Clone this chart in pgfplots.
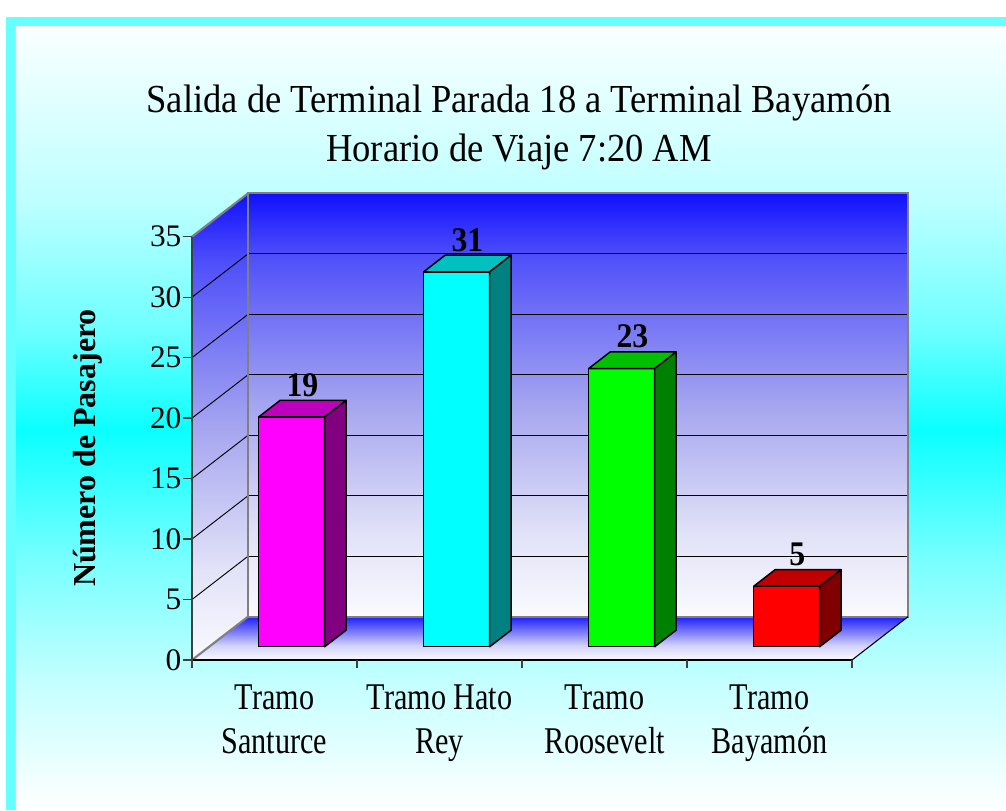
\documentclass[border=0pt]{standalone}
\usepackage{pgfplots}
\usepackage{pgfplotstable}
\pgfplotsset{compat=1.18}
\usepackage{fontspec}
\setmainfont{Liberation Serif}
\newfontfamily\xlabfont[FakeStretch=0.8]{Liberation Serif}
\newfontfamily\titlefont[FakeStretch=0.92]{Liberation Serif}

\definecolor{fr}{RGB}{102,255,255}
\definecolor{wallgray}{RGB}{128,128,128}
\definecolor{axgray}{RGB}{64,64,64}
\definecolor{magF}{RGB}{255,0,255}
\definecolor{magT}{RGB}{190,0,190}
\definecolor{magS}{RGB}{128,0,128}
\definecolor{cyaF}{RGB}{0,255,255}
\definecolor{cyaT}{RGB}{0,192,192}
\definecolor{cyaS}{RGB}{0,128,128}
\definecolor{greF}{RGB}{0,255,0}
\definecolor{greT}{RGB}{0,192,0}
\definecolor{greS}{RGB}{0,128,0}
\definecolor{redF}{RGB}{255,0,0}
\definecolor{redT}{RGB}{192,0,0}
\definecolor{redS}{RGB}{128,0,0}

% background gradient colours
\definecolor{bgA}{RGB}{255,255,255}
\definecolor{bgB}{RGB}{195,255,255}
\definecolor{bgC}{RGB}{120,255,255}
\definecolor{bgD}{RGB}{10,255,255}
\definecolor{bgE}{RGB}{110,255,255}
\definecolor{bgF}{RGB}{190,255,255}
\definecolor{bgG}{RGB}{250,255,255}
\pgfdeclareverticalshading{bgshade}{100bp}{color(0bp)=(bgA); color(25bp)=(bgA); color(33.3bp)=(bgB); color(40.96bp)=(bgC); color(49.27bp)=(bgD); color(55.65bp)=(bgE); color(63.95bp)=(bgF); color(75bp)=(bgG); color(100bp)=(bgG)}

% wall gradient
\definecolor{wA}{RGB}{16,16,255}
\definecolor{wB}{RGB}{80,80,250}
\definecolor{wC}{RGB}{165,165,240}
\definecolor{wD}{RGB}{225,225,248}
\definecolor{wE}{RGB}{250,250,255}
\pgfdeclareverticalshading{wallshade}{100bp}{color(0bp)=(wE); color(25bp)=(wE); color(35bp)=(wD); color(50bp)=(wC); color(67.5bp)=(wB); color(75bp)=(wA); color(100bp)=(wA)}

% floor gradient
\definecolor{fA}{RGB}{30,30,255}
\definecolor{fB}{RGB}{120,120,252}
\definecolor{fC}{RGB}{210,210,252}
\definecolor{fD}{RGB}{250,250,255}
\pgfdeclareverticalshading{floorshade}{100bp}{color(0bp)=(fD); color(25bp)=(fD); color(41.7bp)=(fC); color(58.3bp)=(fB); color(75bp)=(fA); color(100bp)=(fA)}

\pgfplotstableread{
idx value
0 19
1 31
2 23
3 5
}\datatable
\pgfplotstablegetelem{0}{value}\of\datatable \let\vA\pgfplotsretval
\pgfplotstablegetelem{1}{value}\of\datatable \let\vB\pgfplotsretval
\pgfplotstablegetelem{2}{value}\of\datatable \let\vC\pgfplotsretval
\pgfplotstablegetelem{3}{value}\of\datatable \let\vD\pgfplotsretval

% #1 category index, #2 value, #3 front, #4 top, #5 side colour
\newcommand\threedbar[5]{%
  \filldraw[fill=#3, draw=black, line width=1.1pt, line join=round]
    (axis cs:{#1+0.4042},1.099) rectangle (axis cs:{#1+0.8042},{#2+1.099});
  \filldraw[fill=#4, draw=black, line width=1.1pt, line join=round]
    (axis cs:{#1+0.4042},{#2+1.099}) -- (axis cs:{#1+0.8042},{#2+1.099})
    -- (axis cs:{#1+0.9342},{#2+2.470}) -- (axis cs:{#1+0.5342},{#2+2.470}) -- cycle;
  \filldraw[fill=#5, draw=black, line width=1.1pt, line join=round]
    (axis cs:{#1+0.8042},1.099) -- (axis cs:{#1+0.9342},2.470)
    -- (axis cs:{#1+0.9342},{#2+2.470}) -- (axis cs:{#1+0.8042},{#2+1.099}) -- cycle;
  \node[font=\titlefont\bfseries\fontsize{25.9}{30}\selectfont, anchor=base, inner sep=0pt]
    at (axis cs:{#1+0.6692},{#2+2.80}) {#2};
}

\begin{document}
\begin{tikzpicture}
% page background and frame
\fill[white] (-144pt,-112.5pt) rectangle (610.5pt,495pt);
\fill[fr] (-139.5pt,-112.5pt) rectangle (610.5pt,482.25pt);
\shade[shading=bgshade] (-132pt,-112.5pt) rectangle (610.5pt,474.75pt);

\begin{axis}[
  at={(0pt,0pt)}, anchor=south west,
  scale only axis, x=123.75pt, y=9.0705pt,
  xmin=0, xmax=4.33939, ymin=0, ymax=38.58,
  clip=false,
  axis line style={draw=none},
  axis on top,
  ytick={0,5,...,35}, ytick pos=left,
  xtick={0.5,1.5,2.5,3.5}, xtick pos=bottom,
  xticklabels={{Tramo\\Santurce},{Tramo Hato\\Rey},{Tramo\\Roosevelt},{Tramo\\Bayamón}},
  minor xtick={0,1,2,3,4},
  tick align=outside,
  major tick length=6.75pt,
  minor tick length=6pt,
  major x tick style={draw=none},
  minor x tick style={draw=axgray, line width=1pt},
  ytick style={draw=axgray, line width=1pt},
  /pgf/number format/assume math mode=true,
  yticklabel style={font=\fontsize{23.5}{27}\selectfont, inner sep=1pt},
  xticklabel style={font=\xlabfont\fontsize{28.3}{33}\selectfont, align=center, inner sep=0pt, yshift=-12pt},
]
% walls and floor
\shade[shading=wallshade] (axis cs:0,0) -- (axis cs:0.33939,3.58) -- (axis cs:0.33939,38.58) -- (axis cs:0,35) -- cycle;
\shade[shading=wallshade] (axis cs:0.33939,3.58) rectangle (axis cs:4.33939,38.58);
\shade[shading=floorshade] (axis cs:0,0) -- (axis cs:4,0) -- (axis cs:4.33939,3.58) -- (axis cs:0.33939,3.58) -- cycle;
% grid lines
\pgfplotsinvokeforeach{5,10,...,30}{
  \draw[black, line width=0.7pt] (axis cs:0.33939,{#1+3.58}) -- (axis cs:4.33939,{#1+3.58});
  \draw[black, line width=0.7pt] (axis cs:0,#1) -- (axis cs:0.33939,{#1+3.58});
}
% wall outlines
\draw[wallgray, line width=1.6pt] (axis cs:0.33939,3.58) rectangle (axis cs:4.33939,38.58);
\draw[wallgray, line width=1.6pt] (axis cs:0,35) -- (axis cs:0.33939,38.58);
\draw[wallgray, line width=1.6pt] (axis cs:0,0) -- (axis cs:0.33939,3.58);
\draw[black, line width=0.8pt] (axis cs:4,0) -- (axis cs:4.33939,3.58);
\draw[black, line width=1.2pt] (axis cs:0,0) -- (axis cs:4,0);
\draw[axgray, line width=1.6pt] (axis cs:0,0) -- (axis cs:0,35);
% bars
\threedbar{0}{\vA}{magF}{magT}{magS}
\threedbar{1}{\vB}{cyaF}{cyaT}{cyaS}
\threedbar{2}{\vC}{greF}{greT}{greS}
\threedbar{3}{\vD}{redF}{redT}{redS}
% titles
\node[font=\titlefont\fontsize{29.8}{33}\selectfont, anchor=base, inner sep=0pt] at (axis cs:1.982,45.31) {Salida de Terminal Parada 18 a Terminal Bayamón};
\node[font=\titlefont\fontsize{29.8}{33}\selectfont, anchor=base, inner sep=0pt] at (axis cs:1.982,41.18) {Horario de Viaje 7:20 AM};
\node[font=\bfseries\fontsize{24}{28}\selectfont, rotate=90, inner sep=0pt] at (axis cs:-0.630,17.53) {Número de Pasajero};
\end{axis}
\pgfresetboundingbox
\path[use as bounding box] (-144pt,-112.5pt) rectangle (610.5pt,495pt);
\end{tikzpicture}
\end{document}
